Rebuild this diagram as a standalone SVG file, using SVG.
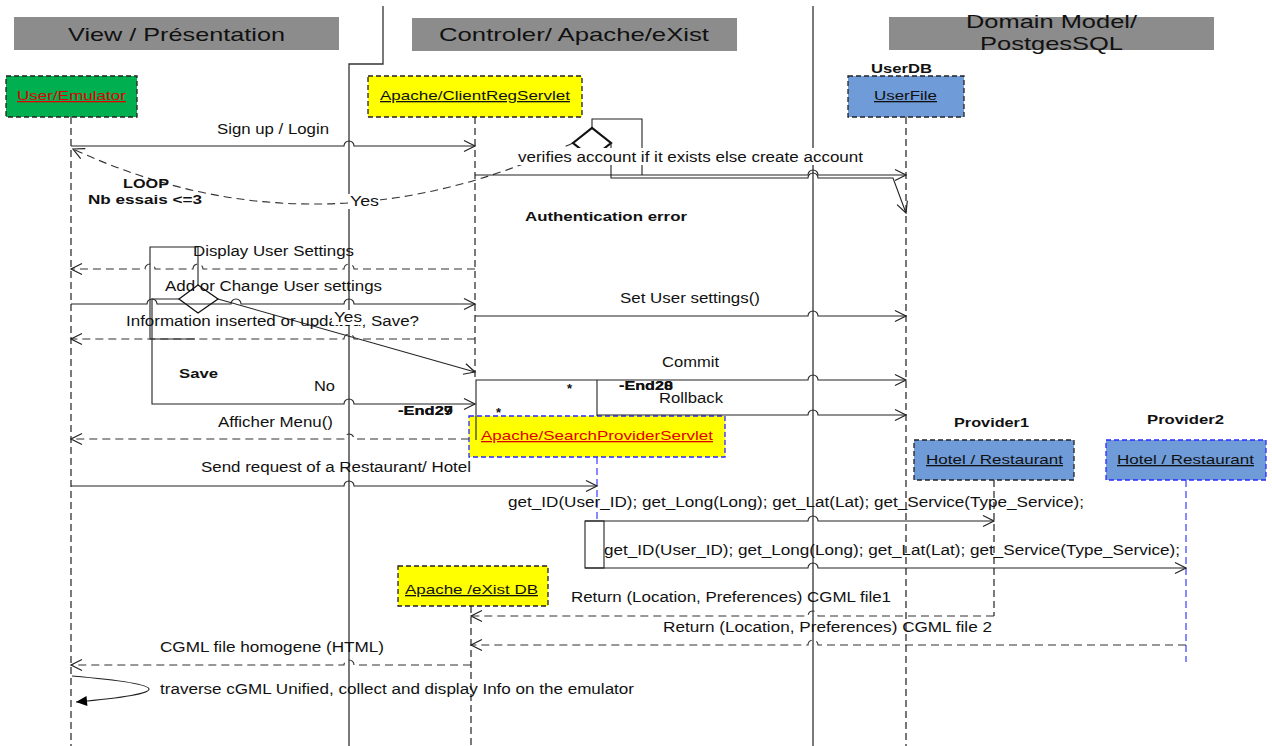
<svg xmlns="http://www.w3.org/2000/svg" width="1272" height="746" viewBox="0 0 1272 746">
<style>
text{font-family:"Liberation Sans",Arial,sans-serif;fill:#111}
.hdr{font-size:19px}
.msg{font-size:14px}
.lbl{font-size:13px;text-decoration:underline}
.red{fill:#e00000}
.b{font-size:13px;font-weight:bold}
.hrect{fill:#8c8c8c}
.node{stroke:#222;stroke-width:1.3;stroke-dasharray:5 3}
.blueb{stroke:#2a2aff}
.ll{fill:none;stroke:#222;stroke-width:1.2;stroke-dasharray:7 4}
.llg{stroke:#555;stroke-width:1.6}
.llb{stroke:#3a3aff}
.solidv{fill:none;stroke:#333;stroke-width:1.3}
.c{fill:none;stroke:#222;stroke-width:1.1}
.d{fill:none;stroke:#333;stroke-width:1.1;stroke-dasharray:8 5}
.ma{marker-end:url(#open)}
.bg{fill:#fff}
</style>
<defs>
<marker id="open" markerUnits="userSpaceOnUse" markerWidth="14" markerHeight="14" refX="11" refY="6" orient="auto" overflow="visible">
<path d="M0,0.5 L11,6 L0,11.5" fill="none" stroke="#222" stroke-width="1.2" stroke-dasharray="none"/>
</marker>
<marker id="filled" markerUnits="userSpaceOnUse" markerWidth="14" markerHeight="14" refX="11" refY="5" orient="auto" overflow="visible">
<path d="M0,0 L11,5 L0,10 Z" fill="#000" stroke="none"/>
</marker>
</defs>
<rect width="1272" height="746" fill="#fff"/>

<g id="headers">
<rect class="hrect" x="14" y="17" width="325" height="33"/>
<text class="hdr" x="68" y="41" textLength="217" lengthAdjust="spacingAndGlyphs">View / Présentation</text>
<rect class="hrect" x="412" y="18" width="325" height="33"/>
<text class="hdr" x="439" y="41" textLength="270" lengthAdjust="spacingAndGlyphs">Controler/ Apache/eXist</text>
<rect class="hrect" x="889" y="17" width="325" height="33"/>
<text class="hdr" x="966" y="28" textLength="171" lengthAdjust="spacingAndGlyphs">Domain Model/</text>
<text class="hdr" x="980" y="50" textLength="143" lengthAdjust="spacingAndGlyphs">PostgesSQL</text>
</g>

<g id="separators">
<path class="solidv" d="M383,6 V64 H349 V746"/>
<path class="solidv" d="M813,6 V746"/>
</g>

<g id="lifelines">
<path class="ll" d="M71,117 V746"/>
<path class="ll" d="M475,117 V380"/>
<path class="ll llg" d="M906,117 V746"/>
<path class="ll llb" d="M597,457 V521"/>
<path class="ll" d="M994,480 V616"/>
<path class="ll llb" d="M1186,480 V662"/>
<path class="ll" d="M471,606 V746"/>
</g>

<g id="node-user">
<rect class="node" x="6" y="76" width="131" height="41" fill="#00b050"/>
<text class="lbl red" x="17" y="100" textLength="109" lengthAdjust="spacingAndGlyphs">User/Emulator</text>
</g>
<g id="node-clientreg">
<rect class="node" x="368" y="76" width="214" height="41" fill="#ffff00"/>
<text class="lbl" x="380" y="100" textLength="190" lengthAdjust="spacingAndGlyphs">Apache/ClientRegServlet</text>
</g>
<g id="node-userfile">
<text class="b" x="871" y="73" textLength="61" lengthAdjust="spacingAndGlyphs">UserDB</text>
<rect class="node" x="848" y="76" width="116" height="41" fill="#6f9bd8"/>
<text class="lbl" x="874" y="100" textLength="63" lengthAdjust="spacingAndGlyphs">UserFile</text>
</g>
<g id="node-searchprovider">
<rect class="node blueb" x="469" y="416" width="256" height="41" fill="#ffff00"/>
<text class="lbl red" x="481" y="440" textLength="232" lengthAdjust="spacingAndGlyphs">Apache/SearchProviderServlet</text>
</g>
<g id="node-provider1">
<text class="b" x="954" y="427" textLength="75" lengthAdjust="spacingAndGlyphs">Provider1</text>
<rect class="node" x="914" y="440" width="160" height="40" fill="#6f9bd8"/>
<text class="lbl" x="926" y="464" textLength="137" lengthAdjust="spacingAndGlyphs">Hotel / Restaurant</text>
</g>
<g id="node-provider2">
<text class="b" x="1147" y="424" textLength="77" lengthAdjust="spacingAndGlyphs">Provider2</text>
<rect class="node blueb" x="1106" y="440" width="160" height="40" fill="#6f9bd8"/>
<text class="lbl" x="1117" y="464" textLength="137" lengthAdjust="spacingAndGlyphs">Hotel / Restaurant</text>
</g>
<g id="node-existdb">
<rect class="node" x="398" y="566" width="150" height="40" fill="#ffff00"/>
<text class="lbl" x="405" y="594" textLength="133" lengthAdjust="spacingAndGlyphs">Apache /eXist DB</text>
</g>

<g id="connectors">
<!-- Sign up / Login -->
<path class="c ma" d="M71,146 H344 a5,5 0 0 1 10,0 H475"/>
<text class="msg" x="217" y="134" textLength="112" lengthAdjust="spacingAndGlyphs">Sign up / Login</text>
<!-- loop back curve -->
<path class="d ma" d="M573,143 Q317,262 73,149"/>
<text class="b" x="123" y="188" textLength="46" lengthAdjust="spacingAndGlyphs">LOOP</text>
<text class="b" x="88" y="204" textLength="114" lengthAdjust="spacingAndGlyphs">Nb essais &lt;=3</text>
<rect class="bg" x="348" y="194" width="32" height="15"/>
<text class="msg" x="350" y="206" textLength="29" lengthAdjust="spacingAndGlyphs">Yes</text>
<!-- decision 1 -->
<path class="c" d="M592,128 V119 H642 V175"/>
<path d="M573,143 L592,128 L611,143 L592,158 Z" fill="none" stroke="#111" stroke-width="2.2"/>
<path class="c ma" d="M475,175 H808 a5,5 0 0 1 10,0 H906"/>
<path class="c ma" d="M611,143 V178 H808 a5,5 0 0 1 10,0 H893 L906,213"/>
<rect class="bg" x="515" y="148" width="352" height="17"/>
<text class="msg" x="518" y="162" textLength="345" lengthAdjust="spacingAndGlyphs">verifies account if it exists else create account</text>
<text class="b" x="525" y="221" textLength="162" lengthAdjust="spacingAndGlyphs">Authentication error</text>
<!-- Display User Settings -->
<path class="d ma" d="M475,269 H354 a5,5 0 0 0 -10,0 H203 a5,5 0 0 0 -10,0 H155 a5,5 0 0 0 -10,0 H71"/>
<text class="msg" x="193" y="256" textLength="161" lengthAdjust="spacingAndGlyphs">Display User Settings</text>
<!-- Add or Change -->
<path class="c ma" d="M71,304 H147 a5,5 0 0 1 10,0 H231 a5,5 0 0 1 10,0 H344 a5,5 0 0 1 10,0 H475"/>
<text class="msg" x="165" y="291" textLength="217" lengthAdjust="spacingAndGlyphs">Add or Change User settings</text>
<!-- loop box & decision 2 -->
<path class="c" d="M198,285 V247 H150 V339 H195"/>
<path class="c ma" d="M179,299 H152 V404 H344 a5,5 0 0 1 10,0 H475"/>
<path d="M179,299 L198,285 L218,299 L198,313 Z" fill="none" stroke="#111" stroke-width="1.3"/>
<path class="c ma" d="M218,299 L475,372"/>
<!-- Information inserted -->
<path class="d ma" d="M475,339 H354 a5,5 0 0 0 -10,0 H71"/>
<text class="msg" x="126" y="326" textLength="293" lengthAdjust="spacingAndGlyphs">Information inserted or updated, Save?</text>
<rect class="bg" x="332" y="310" width="32" height="15"/>
<text class="msg" x="334" y="322" textLength="28" lengthAdjust="spacingAndGlyphs">Yes</text>
<text class="b" x="179" y="378" textLength="39" lengthAdjust="spacingAndGlyphs">Save</text>
<text class="msg" x="314" y="391" textLength="21" lengthAdjust="spacingAndGlyphs">No</text>
<!-- Set User settings -->
<path class="c ma" d="M475,316 H808 a5,5 0 0 1 10,0 H906"/>
<text class="msg" x="620" y="303" textLength="140" lengthAdjust="spacingAndGlyphs">Set User settings()</text>
<!-- Commit / Rollback -->
<path class="c ma" d="M476,440 V380 H808 a5,5 0 0 1 10,0 H906" stroke-width="1.5"/>
<path class="c" d="M597,380 V416" stroke-width="1.5"/>
<path class="c ma" d="M597,415 H808 a5,5 0 0 1 10,0 H906"/>
<text class="msg" x="662" y="367" textLength="57" lengthAdjust="spacingAndGlyphs">Commit</text>
<text class="msg" x="659" y="403" textLength="64" lengthAdjust="spacingAndGlyphs">Rollback</text>
<text class="b" x="619" y="390" textLength="54" lengthAdjust="spacingAndGlyphs">-End28</text>
<text class="b" x="619" y="390" textLength="54" lengthAdjust="spacingAndGlyphs">-End20</text>
<text class="b" x="398" y="415" textLength="55" lengthAdjust="spacingAndGlyphs">-End29</text>
<text class="b" x="398" y="415" textLength="55" lengthAdjust="spacingAndGlyphs">-End27</text>
<text class="b" x="567" y="393">*</text>
<text class="b" x="496" y="417">*</text>
<!-- Afficher Menu -->
<path class="d ma" d="M469,439 H354 a5,5 0 0 0 -10,0 H71"/>
<text class="msg" x="218" y="427" textLength="115" lengthAdjust="spacingAndGlyphs">Afficher Menu()</text>
<!-- Send request -->
<path class="c ma" d="M71,486 H344 a5,5 0 0 1 10,0 H597"/>
<text class="msg" x="201" y="472" textLength="270" lengthAdjust="spacingAndGlyphs">Send request of a Restaurant/ Hotel</text>
<!-- get_ID -->
<rect x="585" y="521" width="19" height="47" fill="#fff" stroke="#222" stroke-width="1.1"/>
<path class="c ma" d="M585,521 H808 a5,5 0 0 1 10,0 H994"/>
<path class="c ma" d="M585,568 H808 a5,5 0 0 1 10,0 H1186"/>
<text class="msg" x="508" y="507" textLength="576" lengthAdjust="spacingAndGlyphs">get_ID(User_ID); get_Long(Long); get_Lat(Lat); get_Service(Type_Service);</text>
<text class="msg" x="604" y="555" textLength="576" lengthAdjust="spacingAndGlyphs">get_ID(User_ID); get_Long(Long); get_Lat(Lat); get_Service(Type_Service);</text>
<!-- Returns -->
<path class="d ma" d="M994,616 H818 a5,5 0 0 0 -10,0 H471"/>
<text class="msg" x="571" y="602" textLength="320" lengthAdjust="spacingAndGlyphs">Return (Location, Preferences) CGML file1</text>
<path class="d ma" d="M1186,645 H818 a5,5 0 0 0 -10,0 H471"/>
<text class="msg" x="663" y="632" textLength="329" lengthAdjust="spacingAndGlyphs">Return (Location, Preferences) CGML file 2</text>
<!-- CGML homogene -->
<path class="d ma" d="M471,665 H354 a5,5 0 0 0 -10,0 H71"/>
<text class="msg" x="160" y="652" textLength="224" lengthAdjust="spacingAndGlyphs">CGML file homogene (HTML)</text>
<!-- self message -->
<path class="c" d="M72,676 Q224,689 76,702" marker-end="url(#filled)"/>
<text class="msg" x="160" y="694" textLength="474" lengthAdjust="spacingAndGlyphs">traverse cGML Unified, collect and display Info on the emulator</text>
</g>
</svg>
